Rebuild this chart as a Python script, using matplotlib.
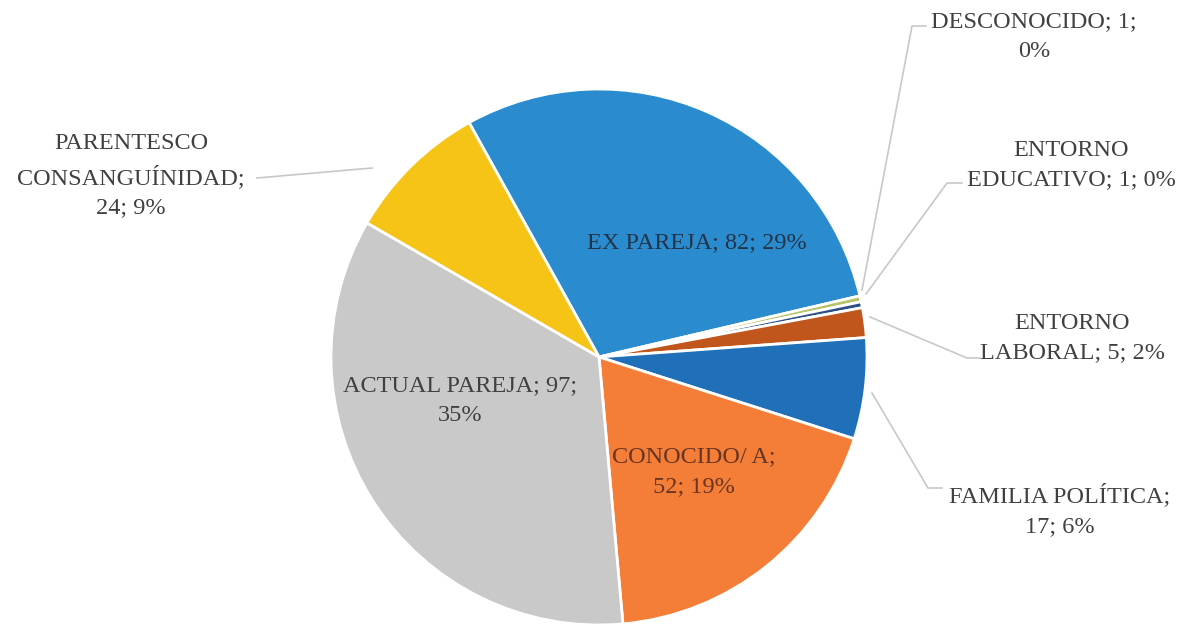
import numpy as np
import matplotlib.pyplot as plt

# data, clockwise from the top-left edge of EX PAREJA
categories = ["EX PAREJA", "DESCONOCIDO", "ENTORNO EDUCATIVO", "ENTORNO LABORAL",
              "FAMILIA POLÍTICA", "CONOCIDO/ A", "ACTUAL PAREJA", "PARENTESCO CONSANGUÍNIDAD"]
counts = [82, 1, 1, 5, 17, 52, 97, 24]
colors = ["#2a8ccf", "#b5c267", "#2b4f86", "#c0561c", "#1f70b8", "#f47e38", "#c9c9c9", "#f5c416"]

W, H = 1182, 627
fig = plt.figure(figsize=(W / 100, H / 100), dpi=100)
ax = fig.add_axes([0, 0, 1, 1])

cx, cy, r = 599, H - 357, 268
ax.pie(counts, colors=colors, startangle=119, counterclock=False,
       center=(cx, cy), radius=r, frame=True,
       wedgeprops=dict(edgecolor="white", linewidth=2))
ax.set_xlim(0, W)
ax.set_ylim(0, H)
ax.set_aspect("equal")
ax.axis("off")

total = sum(counts)
pcts = [round(100 * c / total) for c in counts]
font = dict(family="Liberation Serif", fontsize=17.5, color="#404040")
ls = 1.55

def y(p):
    return H - p

# inside labels
ax.text(697, y(243), f"EX PAREJA; {counts[0]}; {pcts[0]}%", ha="center", va="center",
        **{**font, "color": "#243447"})
ax.text(460, y(401), f"ACTUAL PAREJA; {counts[6]};\n{pcts[6]}%", ha="center", va="center",
        linespacing=ls, **font)
ax.text(694, y(472), f"CONOCIDO/ A;\n{counts[5]}; {pcts[5]}%", ha="center", va="center",
        linespacing=ls, **{**font, "color": "#6a3422"})

# outside labels with leader lines: (text, text xy, line points)
lc = "#c8c8c8"
outside = [
    (f"DESCONOCIDO; {counts[1]};\n{pcts[1]}%", (1034, 37), [(926, 26), (912, 26), (862, 290)]),
    (f"ENTORNO\nEDUCATIVO; {counts[2]}; {pcts[2]}%", (1071, 165), [(962, 183), (947, 183), (866, 294)]),
    (f"ENTORNO\nLABORAL; {counts[3]}; {pcts[3]}%", (1072, 338), [(980, 358), (967, 358), (870, 317)]),
    (f"FAMILIA POLÍTICA;\n{counts[4]}; {pcts[4]}%", (1060, 510), [(942, 488), (928, 488), (872, 393)]),
    (f"PARENTESCO\nCONSANGUÍNIDAD;\n{counts[7]}; {pcts[7]}%", (131, 176), [(257, 178), (372, 168)]),
]
for txt, (tx, ty), pts in outside:
    ax.text(tx, y(ty), txt, ha="center", va="center", linespacing=ls, **font)
    ax.plot([p[0] for p in pts], [y(p[1]) for p in pts], color=lc, lw=1.2)

fig.savefig("out.png", dpi=100, facecolor="white")
